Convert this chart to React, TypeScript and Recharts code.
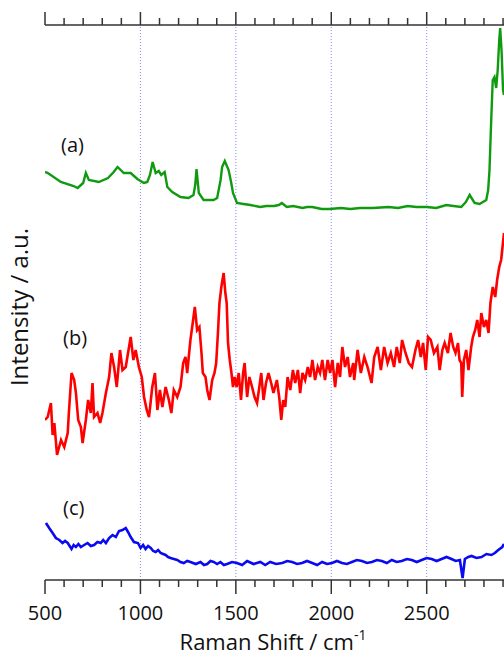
import { LineChart, Line, XAxis, YAxis, ReferenceLine } from 'recharts';

// Raman spectra, values in a.u. (offset stacks a / b / c)
const GREEN_X = [500, 515, 583, 650, 671, 700, 714, 730, 782, 830, 860, 880, 913, 949, 984, 1018, 1036, 1050, 1064, 1080, 1096, 1109, 1127, 1141, 1167, 1210, 1252, 1278, 1287, 1294, 1302, 1306, 1331, 1383, 1402, 1420, 1428, 1442, 1462, 1475, 1485, 1506, 1540, 1576, 1628, 1660, 1700, 1725, 1741, 1767, 1800, 1850, 1872, 1900, 1950, 1993, 2050, 2100, 2150, 2218, 2300, 2350, 2400, 2446, 2500, 2550, 2603, 2640, 2681, 2705, 2725, 2751, 2777, 2812, 2822, 2829, 2838, 2846, 2855, 2864, 2872, 2880, 2885, 2892, 2900, 2905];
const GREEN_Y = [408, 407, 398, 394, 392, 397, 407, 400, 398, 402, 408, 413, 407, 407, 401, 397, 398, 405, 418, 407, 409, 405, 408, 393, 388, 383, 382, 385, 395, 411, 395, 387, 380, 380, 382, 400, 413, 419, 410, 398, 387, 377, 376, 375, 373, 374, 374, 375, 377, 373, 374, 372, 373, 373, 371, 371, 372, 371, 372, 372, 373, 372, 374, 373, 373, 372, 375, 374, 373, 378, 385, 377, 376, 380, 390, 410, 460, 500, 503, 492, 510, 540, 552, 530, 490, 485];

const RED_X = [500, 514, 531, 540, 549, 563, 584, 601, 619, 625, 639, 653, 662, 674, 688, 697, 714, 726, 740, 749, 757, 775, 789, 801, 819, 836, 848, 862, 876, 893, 906, 923, 935, 949, 963, 975, 992, 1007, 1019, 1033, 1045, 1062, 1076, 1089, 1102, 1115, 1132, 1149, 1162, 1175, 1193, 1210, 1224, 1236, 1245, 1262, 1274, 1285, 1297, 1309, 1320, 1327, 1341, 1350, 1362, 1376, 1388, 1397, 1407, 1414, 1424, 1436, 1445, 1452, 1459, 1468, 1477, 1485, 1494, 1504, 1515, 1527, 1538, 1546, 1559, 1571, 1585, 1598, 1611, 1623, 1633, 1645, 1658, 1671, 1685, 1697, 1715, 1727, 1738, 1748, 1759, 1771, 1785, 1799, 1811, 1825, 1837, 1849, 1863, 1877, 1889, 1901, 1915, 1929, 1941, 1953, 1967, 1981, 1994, 2006, 2020, 2034, 2046, 2058, 2072, 2086, 2098, 2115, 2120, 2138, 2155, 2173, 2190, 2211, 2225, 2243, 2260, 2277, 2295, 2312, 2329, 2343, 2359, 2371, 2389, 2406, 2423, 2441, 2455, 2469, 2481, 2495, 2507, 2521, 2538, 2556, 2568, 2582, 2594, 2611, 2625, 2639, 2651, 2664, 2672, 2681, 2686, 2695, 2707, 2719, 2733, 2742, 2754, 2765, 2777, 2786, 2800, 2812, 2824, 2834, 2846, 2859, 2869, 2880, 2890, 2905];
const RED_Y = [160, 163, 177, 145, 157, 125, 140, 133, 147, 167, 207, 200, 187, 160, 153, 137, 160, 180, 167, 197, 163, 167, 157, 167, 187, 203, 227, 213, 193, 230, 210, 213, 227, 243, 220, 230, 213, 203, 183, 170, 163, 193, 207, 170, 190, 173, 193, 180, 167, 190, 183, 193, 217, 223, 207, 240, 257, 273, 250, 253, 227, 207, 203, 190, 180, 200, 207, 217, 250, 277, 293, 307, 287, 277, 237, 220, 207, 193, 203, 193, 207, 180, 207, 217, 183, 203, 193, 183, 177, 193, 207, 180, 197, 207, 197, 187, 200, 183, 160, 180, 173, 203, 190, 210, 197, 210, 187, 207, 200, 213, 203, 220, 200, 213, 207, 220, 200, 220, 207, 220, 193, 217, 203, 233, 213, 223, 203, 217, 200, 230, 207, 223, 213, 197, 223, 233, 210, 233, 217, 227, 213, 233, 217, 240, 227, 217, 213, 230, 240, 223, 237, 210, 243, 240, 227, 233, 210, 230, 237, 227, 247, 233, 227, 237, 220, 217, 183, 220, 230, 210, 233, 243, 250, 260, 243, 267, 253, 260, 247, 277, 293, 283, 300, 313, 320, 347];

const BLUE_X = [505, 522, 540, 557, 575, 592, 605, 619, 639, 650, 662, 675, 688, 705, 723, 740, 757, 775, 792, 805, 819, 836, 854, 871, 888, 906, 923, 935, 949, 966, 987, 1001, 1014, 1027, 1040, 1054, 1067, 1080, 1093, 1106, 1119, 1132, 1145, 1158, 1175, 1193, 1210, 1227, 1245, 1262, 1290, 1315, 1333, 1350, 1367, 1384, 1402, 1419, 1437, 1454, 1480, 1506, 1533, 1559, 1593, 1628, 1654, 1680, 1711, 1743, 1769, 1795, 1821, 1847, 1873, 1900, 1926, 1952, 1978, 2004, 2030, 2056, 2082, 2108, 2134, 2161, 2187, 2213, 2239, 2265, 2291, 2317, 2343, 2369, 2396, 2422, 2448, 2474, 2500, 2526, 2552, 2578, 2604, 2630, 2652, 2674, 2688, 2700, 2718, 2735, 2761, 2787, 2813, 2839, 2857, 2875, 2896, 2905];
const BLUE_Y = [57, 52, 47, 42, 40, 37, 39, 37, 31, 35, 33, 36, 33, 35, 37, 34, 35, 38, 37, 40, 37, 42, 45, 43, 49, 50, 52, 48, 43, 38, 37, 32, 35, 31, 34, 32, 29, 28, 30, 27, 26, 25, 23, 22, 21, 20, 18, 17, 19, 18, 16, 18, 15, 16, 19, 18, 16, 18, 15, 16, 18, 17, 15, 19, 16, 18, 15, 18, 16, 17, 19, 18, 16, 17, 19, 17, 15, 18, 16, 17, 19, 17, 16, 18, 20, 19, 17, 18, 20, 19, 17, 20, 18, 19, 21, 20, 18, 20, 22, 21, 19, 21, 23, 21, 19, 20, 2, 21, 23, 24, 22, 23, 26, 25, 27, 30, 33, 36];

const TICKS = [500, 600, 700, 800, 900, 1000, 1100, 1200, 1300, 1400, 1500, 1600, 1700, 1800, 1900, 2000, 2100, 2200, 2300, 2400, 2500, 2600, 2700, 2800, 2900];
const LABELED = [500, 1000, 1500, 2000, 2500];
const GRID_X = [1000, 1500, 2000, 2500];

const toRows = (xs: number[], ys: number[]) => xs.map((x, i) => ({ x, y: ys[i] }));

const green = toRows(GREEN_X, GREEN_Y);
const red = toRows(RED_X, RED_Y);
const blue = toRows(BLUE_X, BLUE_Y);

const AXIS = '#333';
const FONT = '"Open Sans", sans-serif';

const BottomTick = ({ x, y, payload }: any) => {
  const major = payload.value % 500 === 0;
  return (
    <g>
      <line x1={x} x2={x} y1={y} y2={y + (major ? 14 : 7)} stroke={AXIS} strokeWidth={1.5} />
      {LABELED.includes(payload.value) && (
        <text x={x} y={y + 40} textAnchor="middle" fontFamily={FONT} fontSize={20} fill="#111">
          {payload.value}
        </text>
      )}
    </g>
  );
};

const TopTick = ({ x, y, payload }: any) => {
  const major = payload.value % 500 === 0;
  return <line x1={x} x2={x} y1={y} y2={y - (major ? 13 : 7)} stroke={AXIS} strokeWidth={1.5} />;
};

export default function App() {
  return (
    <div style={{ position: 'absolute', left: 0, top: 0, width: 504, height: 657, background: '#fff' }}>
      <LineChart width={504} height={657} margin={{ top: 0, right: 0, bottom: 0, left: 45 }}>
        <XAxis
          dataKey="x"
          type="number"
          domain={[500, 2905]}
          allowDataOverflow
          ticks={TICKS}
          interval={0}
          height={77}
          tickSize={0}
          tickMargin={0}
          tick={<BottomTick />}
          axisLine={{ stroke: AXIS, strokeWidth: 1.5 }}
          tickLine={false}
        />
        <XAxis
          xAxisId="top"
          orientation="top"
          dataKey="x"
          type="number"
          domain={[500, 2905]}
          allowDataOverflow
          ticks={TICKS}
          interval={0}
          height={25}
          tickSize={0}
          tickMargin={0}
          tick={<TopTick />}
          axisLine={{ stroke: AXIS, strokeWidth: 1.5 }}
          tickLine={false}
        />
        <YAxis
          type="number"
          domain={[0, 555]}
          width={0}
          tick={false}
          tickLine={false}
          axisLine={{ stroke: AXIS, strokeWidth: 1.5 }}
        />
        {GRID_X.map((g) => (
          <ReferenceLine key={g} x={g} stroke="#8a8aff" strokeDasharray="1 2" strokeWidth={1} />
        ))}
        <Line xAxisId="top" data={green} dataKey="y" stroke="none" dot={false} isAnimationActive={false} />
        <Line data={green} dataKey="y" type="linear" stroke="#109a10" strokeWidth={2.4} dot={false} isAnimationActive={false} />
        <Line data={red} dataKey="y" type="linear" stroke="#ff0000" strokeWidth={2.6} dot={false} isAnimationActive={false} />
        <Line data={blue} dataKey="y" type="linear" stroke="#0a0af0" strokeWidth={2.6} dot={false} isAnimationActive={false} />
      </LineChart>
      <svg width={504} height={657} style={{ position: 'absolute', left: 0, top: 0, pointerEvents: 'none' }}>
        <g fontFamily={FONT} fill="#111" fontSize={20}>
          <text x={61} y={152}>(a)</text>
          <text x={63} y={345}>(b)</text>
          <text x={63} y={515}>(c)</text>
          <text x={273} y={650} textAnchor="middle" fontSize={22}>
            Raman Shift / cm<tspan fontSize={14} dy={-10}>-1</tspan>
          </text>
          <text transform="translate(28,307) rotate(-90)" textAnchor="middle" fontSize={24}>
            Intensity / a.u.
          </text>
        </g>
      </svg>
    </div>
  );
}
